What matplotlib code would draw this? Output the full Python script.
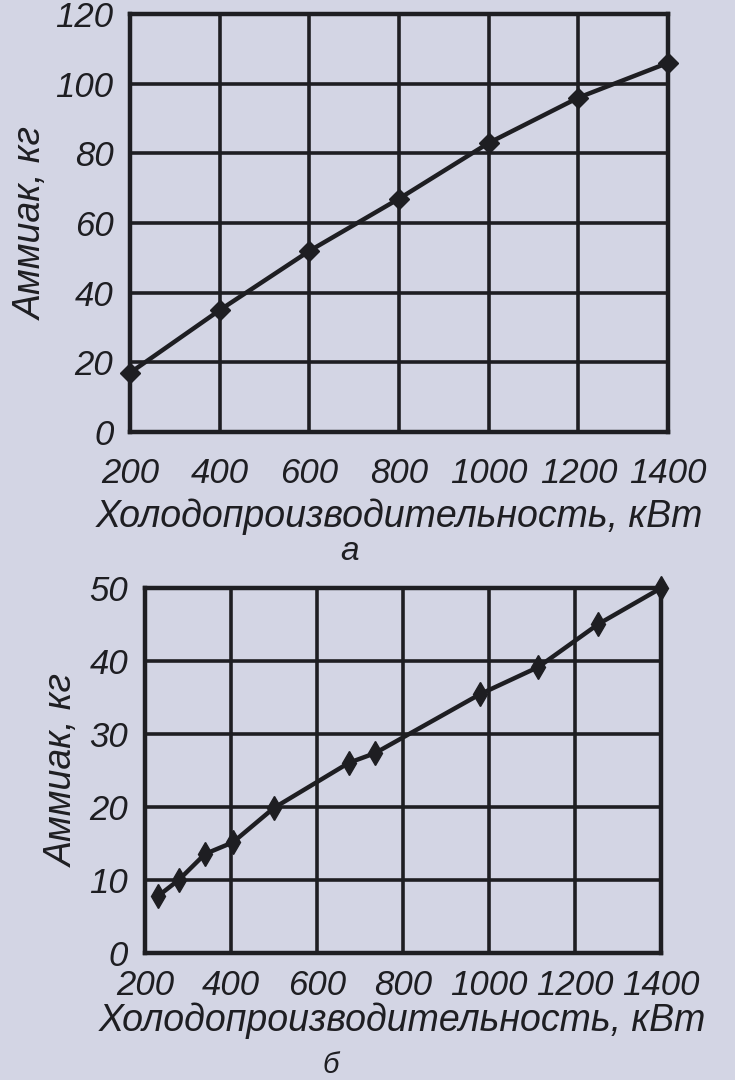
import matplotlib.pyplot as plt

# chart a
x_a = [200, 400, 600, 800, 1000, 1200, 1400]
y_a = [17, 35, 52, 67, 83, 96, 106]

# chart b
x_b = [230, 280, 340, 405, 500, 675, 735, 980, 1115, 1255, 1400]
y_b = [7.7, 10.0, 13.5, 15.1, 19.8, 26.0, 27.3, 35.4, 39.1, 45.0, 49.9]

x_ticks = [200, 400, 600, 800, 1000, 1200, 1400]
y_ticks_a = [0, 20, 40, 60, 80, 100, 120]
y_ticks_b = [0, 10, 20, 30, 40, 50]

x_label = "Холодопроизводительность, кВт"
y_label = "Аммиак, кг"

bg = "#d3d5e4"
ink = "#1e1e22"

plt.rcParams['font.family'] = ['Liberation Sans', 'DejaVu Sans']
plt.rcParams['font.style'] = 'italic'

fig = plt.figure(figsize=(7.35, 10.8), dpi=100)
fig.patch.set_facecolor(bg)

ax1 = fig.add_axes([0.177, 0.600, 0.732, 0.387])
ax2 = fig.add_axes([0.197, 0.118, 0.702, 0.338])

for ax, xs, ys, yt, mk, ms in [(ax1, x_a, y_a, y_ticks_a, 'D', 10),
                               (ax2, x_b, y_b, y_ticks_b, 'd', 12)]:
    ax.set_facecolor(bg)
    ax.plot(xs, ys, color=ink, lw=3.2, marker=mk, ms=ms, mfc=ink, mec=ink,
            clip_on=False, zorder=3)
    ax.set_xlim(200, 1400)
    ax.set_ylim(yt[0], yt[-1])
    ax.set_xticks(x_ticks)
    ax.set_yticks(yt)
    ax.grid(True, color=ink, lw=2.6)
    ax.tick_params(length=0, labelsize=25, colors=ink, pad=12)
    for s in ax.spines.values():
        s.set_linewidth(3.2)
        s.set_color(ink)

ax1.set_xlabel(x_label, fontsize=27, color=ink, labelpad=6)
ax2.set_xlabel(x_label, fontsize=27, color=ink, labelpad=0)
ax1.set_ylabel(y_label, fontsize=27, color=ink, labelpad=4)
ax2.set_ylabel(y_label, fontsize=27, color=ink, labelpad=6)
ax1.tick_params(axis='x', pad=18)
ax2.tick_params(axis='x', pad=12)

# figure letters
fig.text(0.475, 1 - 536 / 1080, "а", fontsize=24, color=ink, ha='center', va='top')
fig.text(0.45, 0.001, "б", fontsize=21, color=ink, ha='center', va='bottom')

fig.savefig("out.png", dpi=100, facecolor=bg)
